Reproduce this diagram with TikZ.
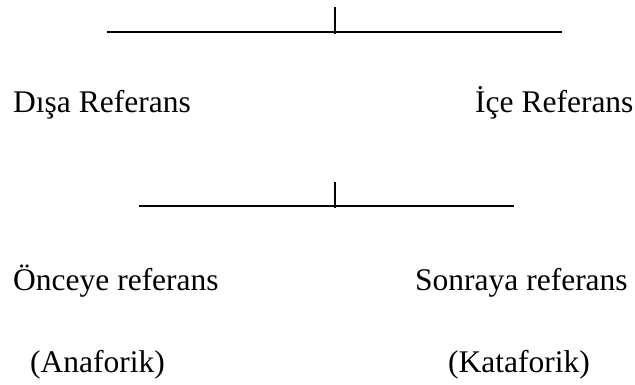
\documentclass[tikz,border=0pt]{standalone}
\usepackage{fontspec}
\setmainfont{Liberation Serif}
\begin{document}
\begin{tikzpicture}[x=1pt,y=1pt,
  lbl/.style={anchor=base west,inner sep=0pt,font=\fontsize{31.5}{36}\selectfont},
  hline/.style={line width=1.2pt},
  vbar/.style={line width=1.7pt}]
\useasboundingbox[fill=white] (0,0) rectangle (635,-385);
% level 1
\coordinate (t1l) at (107,-32);
\coordinate (t1r) at (562,-32);
\coordinate (t1top) at (335,-7);
\coordinate (t1bot) at (335,-34);
\draw[hline] (t1l) -- (334,-32);
\draw[hline] (336,-32) -- (t1r);
\draw[vbar] (t1top) -- (t1bot);
\node[lbl] (disa) at (13,-113) {Dışa Referans};
\node[lbl] (ice) at (475,-113) {İçe Referans};
% level 2
\coordinate (t2l) at (139,-206);
\coordinate (t2r) at (514,-206);
\coordinate (t2top) at (335,-182);
\coordinate (t2bot) at (335,-208);
\draw[hline] (t2l) -- (334,-206);
\draw[hline] (336,-206) -- (t2r);
\draw[vbar] (t2top) -- (t2bot);
\node[lbl] (once) at (13,-290) {Önceye referans};
\node[lbl] (sonra) at (415,-290) {Sonraya referans};
\node[lbl] (ana) at (30,-372) {(Anaforik)};
\node[lbl] (kata) at (448,-372) {(Kataforik)};
\end{tikzpicture}
\end{document}
